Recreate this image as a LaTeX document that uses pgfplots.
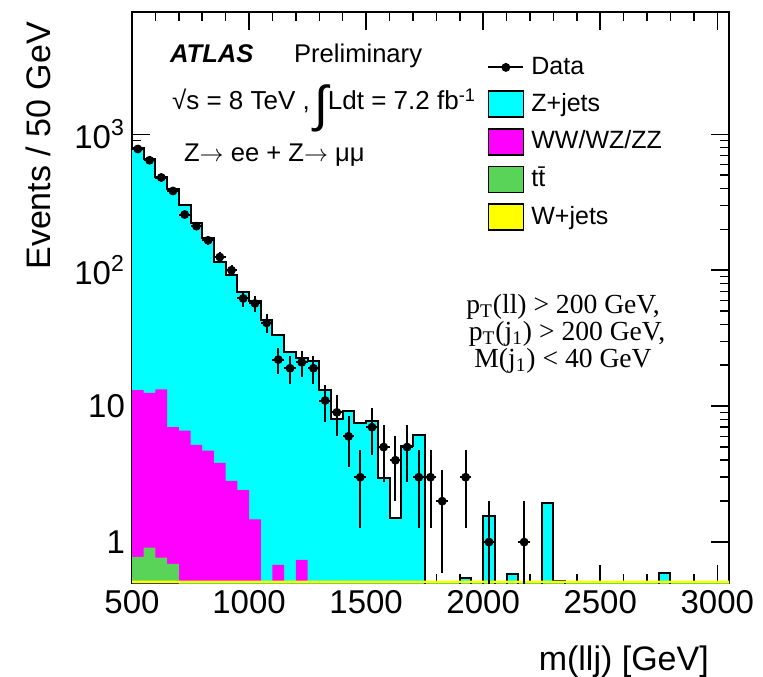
\documentclass[border=0pt]{standalone}
\usepackage{fontspec}
\setmainfont{Liberation Sans}
\newfontfamily\serif{Liberation Serif}
\usepackage{pgfplots}
\usepackage{pgfplotstable}
\pgfplotsset{compat=1.18}

\definecolor{zjets}{RGB}{0,255,255}
\definecolor{diboson}{RGB}{255,0,255}
\definecolor{ttbar}{RGB}{89,212,89}
\definecolor{wjets}{RGB}{255,255,0}

% cumulative stack tops per 50 GeV bin (left edge), 0.1 = empty bin
% zj = Z+jets + WW/WZ/ZZ + ttbar + W+jets, vv = WW/WZ/ZZ + ttbar + W+jets, tt = ttbar + W+jets
\pgfplotstableread{
x     zj     vv     tt
500   795    13.1   0.78
550   655    12.5   0.91
600   485    13.3   0.77
650   393    7.0    0.69
700   300    6.6    0.1
750   223    5.2    0.1
800   174    4.7    0.1
850   115    3.83   0.1
900   92     2.82   0.1
950   69     2.41   0.1
1000  59     1.47   0.1
1050  43     0.1    0.1
1100  33.3   0.68   0.1
1150  25.1   0.1    0.1
1200  22.6   0.74   0.1
1250  21.5   0.1    0.1
1300  13.1   0.1    0.1
1350  8.1    0.1    0.1
1400  9.2    0.1    0.1
1450  7.5    0.1    0.1
1500  7.8    0.1    0.1
1550  2.94   0.1    0.1
1600  1.51   0.1    0.1
1650  5.1    0.1    0.1
1700  6.1    0.1    0.1
1750  0.1    0.1    0.1
1800  0.1    0.1    0.1
1850  0.1    0.1    0.1
1900  0.54   0.1    0.1
1950  0.1    0.1    0.1
2000  1.55   0.1    0.1
2050  0.1    0.1    0.1
2100  0.585  0.1    0.1
2150  0.1    0.1    0.1
2200  0.1    0.1    0.1
2250  1.93   0.1    0.1
2300  0.514  0.1    0.1
2350  0.1    0.1    0.1
2400  0.1    0.1    0.1
2450  0.1    0.1    0.1
2500  0.1    0.1    0.1
2550  0.1    0.1    0.1
2600  0.1    0.1    0.1
2650  0.1    0.1    0.1
2700  0.1    0.1    0.1
2750  0.595  0.1    0.1
2800  0.1    0.1    0.1
2850  0.1    0.1    0.1
2900  0.1    0.1    0.1
2950  0.1    0.1    0.1
3000  0.1    0.1    0.1
3050  0.1    0.1    0.1
}\stack

% data: bin centre, events, x half width, error up, error down
\pgfplotstableread{
x     y    ex   ep    em
525   780  25   27.9  27.9
575   644  25   25.4  25.4
625   481  25   21.9  21.9
675   383  25   19.6  19.6
725   257  25   16.0  16.0
775   211  25   14.5  14.5
825   166  25   12.9  12.9
875   125  25   11.2  11.2
925   100  25   10.0  10.0
975   62   25   7.9   7.9
1025  57   25   7.5   7.5
1075  41   25   6.4   6.4
1125  22   25   4.7   4.7
1175  19   25   4.4   4.4
1225  21   25   4.6   4.6
1275  19   25   4.4   4.4
1325  11   25   3.3   3.3
1375  9    25   3.0   3.0
1425  6    25   2.45  2.45
1475  3    25   1.73  1.73
1525  7    25   2.65  2.65
1575  5    25   2.24  2.24
1625  4    25   2.0   2.0
1675  5    25   2.24  2.24
1725  3    25   1.73  1.73
1775  3    25   1.73  1.73
1825  2    25   1.41  1.41
1925  3    25   1.73  1.73
2025  1    25   1.0   0.99
2175  1    25   1.0   0.99
}\data

\begin{document}
\begin{tikzpicture}
\begin{axis}[
  scale only axis, width=298.5pt, height=285.5pt,
  xmin=500, xmax=3050, ymin=0.5, ymax=7943, ymode=log,
  log origin y=infty,
  axis line style={line width=1pt},
  every tick/.style={black, line width=0.75pt},
  tick align=inside, major tick length=9pt, minor tick length=4.5pt,
  xtick={500,1000,...,3000}, minor x tick num=4,
  ytick={1,10,100,1000},
  yticklabels={1,10,10\textsuperscript{2},10\textsuperscript{3}},
  /pgf/number format/assume math mode=true, /pgf/number format/1000 sep={},
  tick label style={font=\fontsize{16.5}{18}\selectfont},
  xlabel={m(llj) [GeV]}, ylabel={Events / 50 GeV},
  label style={font=\fontsize{17}{19}\selectfont},
  xlabel style={at={(rel axis cs:0.978,-0.1524)}, anchor=base east},
  ylabel style={at={(rel axis cs:-0.1575,0.9947)}, anchor=east},
  legend style={at={(rel axis cs:0.5946,0.9264)}, anchor=north west, draw=none, fill=none,
    font=\fontsize{12.5}{14}\selectfont, row sep=5pt, inner sep=0pt,
    nodes={inner sep=0pt, text height=10pt, text depth=3pt}},
  legend cell align=left,
  /tikz/every odd column/.append style={column sep=3.5pt},
  legend image code/.code={\draw[#1] (0pt,-6.5pt) rectangle (17.5pt,6.5pt);},
]
\addlegendimage{legend image code/.code={\draw[black, line width=1pt] (0pt,0pt) -- (17.5pt,0pt); \fill[black] (8.75pt,0pt) circle (2pt);}}
\addlegendentry{Data}
\addlegendimage{fill=zjets, draw=black, line width=0.8pt}
\addlegendentry{Z+jets}
\addlegendimage{fill=diboson, draw=black, line width=0.8pt}
\addlegendentry{WW/WZ/ZZ}
\addlegendimage{fill=ttbar, draw=black, line width=0.8pt}
\addlegendentry{t\={t}}
\addlegendimage{fill=wjets, draw=black, line width=0.8pt}
\addlegendentry{W+jets}

\addplot[const plot, fill=zjets, draw=none, forget plot] table[x=x, y=zj]{\stack} \closedcycle;
\addplot[const plot, fill=diboson, draw=none, forget plot] table[x=x, y=vv]{\stack} \closedcycle;
\addplot[const plot, fill=ttbar, draw=none, forget plot] table[x=x, y=tt]{\stack} \closedcycle;
\addplot[const plot, black, line width=1pt, forget plot] table[x=x, y=zj]{\stack};
\addplot[const plot, fill=wjets, draw=none, forget plot] coordinates {(500,0.52) (3050,0.52)} \closedcycle;
\addplot[only marks, mark=*, mark size=2pt, black, forget plot,
  error bars/.cd, x dir=both, x explicit, y dir=both, y explicit,
  error mark=none, error bar style={line width=1pt}]
  table[x=x, y=y, x error=ex, y error plus=ep, y error minus=em]{\data};

\node[anchor=base west, font=\fontsize{12.8}{14}\selectfont\bfseries\itshape] at (rel axis cs:0.0519,0.9124) {ATLAS};
\node[anchor=base west, font=\fontsize{12.8}{14}\selectfont] at (rel axis cs:0.2596,0.9124) {Preliminary};
\node[anchor=base west, font=\fontsize{13}{15}\selectfont] at (rel axis cs:0.0553,0.8284)
  {√s = 8 TeV ,\,\raisebox{-6pt}{\fontsize{25}{25}\selectfont ∫}Ldt = 7.2 fb\textsuperscript{-1}};
\node[anchor=base west, font=\fontsize{12.8}{14}\selectfont] at (rel axis cs:0.0754,0.7373)
  {Z\(\rightarrow\) ee + Z\(\rightarrow\) μμ};
\node[anchor=north, inner sep=0pt, align=center, font=\fontsize{13.8}{12.5}\selectfont\serif]
  at (rel axis cs:0.7220,0.506)
  {p\textsubscript{T}(ll) > 200 GeV,\\ \hspace{4pt}p\textsubscript{T}(j\textsubscript{1}) > 200 GeV,\\ M(j\textsubscript{1}) < 40 GeV};
\end{axis}
\pgfresetboundingbox
\path[use as bounding box] ([xshift=-66pt,yshift=-47pt]current axis.south west) rectangle ([xshift=17pt,yshift=6pt]current axis.north east);
\end{tikzpicture}
\end{document}
